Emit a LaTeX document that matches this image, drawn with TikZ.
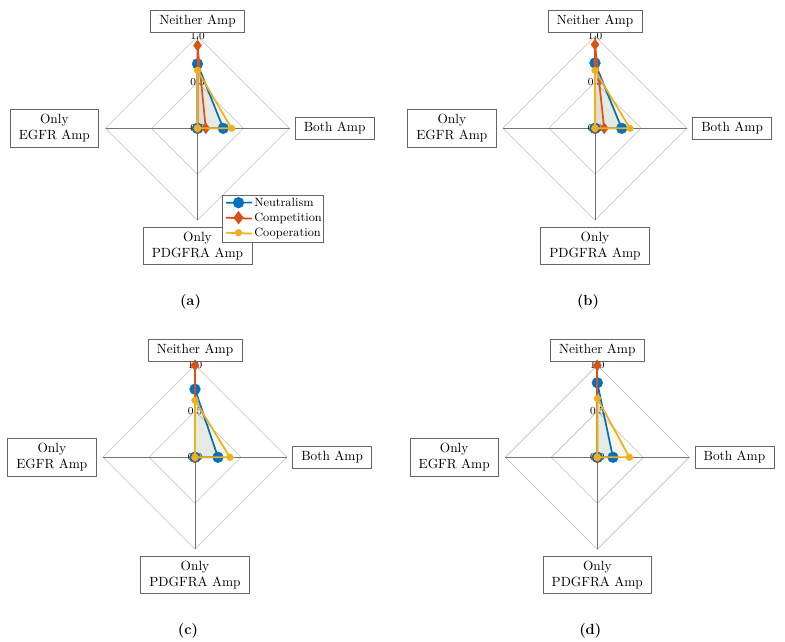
\documentclass[tikz,border=0pt]{standalone}
\usepackage{amsmath}
\usepackage{tikz}
\usetikzlibrary{positioning}
\usetikzlibrary{plotmarks}

\definecolor{neublue}{rgb}{0,0.447,0.741}
\definecolor{comporange}{rgb}{0.85,0.325,0.098}
\definecolor{coopyellow}{rgb}{0.929,0.694,0.125}

\begin{document}
\begin{tikzpicture}[x=0.75pt,y=-0.75pt,
		axlabel/.style={draw=black!60,rectangle,align=center,inner xsep=6.5pt,inner ysep=3.5pt},
		gridline/.style={draw=black!25,line width=0.45pt},
		axisline/.style={draw=black!55,line width=0.7pt},
		tick/.style={font=\footnotesize,inner sep=0pt},
		series/.style={line width=1.3pt,line join=round},
		neu/.style={neublue,mark=*,mark size=4pt,mark options={line width=0.4pt}},
		comp/.style={comporange,mark=diamond*,mark size=4pt,mark options={line width=0.4pt}},
		coop/.style={coopyellow,mark=*,mark size=2.5pt,mark options={line width=0.4pt}},
		legtext/.style={font=\small,anchor=base west,inner xsep=1.5pt,inner ysep=0pt}]
	\useasboundingbox (0,0) rectangle (785,642);

	\foreach \p/\cx/\cy/\nN/\nB/\kN/\kB/\oN/\oB in {
			a/197.5/128.3/0.70/0.28/0.90/0.09/0.63/0.37,
			b/595/128.3/0.71/0.29/0.91/0.10/0.63/0.38,
			c/195/457.3/0.74/0.25/1.00/0.00/0.62/0.38,
			d/597.3/457.3/0.81/0.17/1.00/0.00/0.64/0.35} {
		\begin{scope}[shift={(\cx,\cy)}]
			\coordinate (o\p) at (0,0);
			\coordinate (top\p) at (0,-92);
			\coordinate (right\p) at (92,0);
			\coordinate (bottom\p) at (0,92);
			\coordinate (left\p) at (-92,0);

			\draw [gridline] (top\p) -- (right\p) -- (bottom\p) -- (left\p) -- cycle;
			\draw [gridline] (0,-46) -- (46,0) -- (0,46) -- (-46,0) -- cycle;
			\draw [axisline] (left\p) -- (right\p) (top\p) -- (bottom\p);

			\node [tick] at (top\p) {1.0};
			\node [tick] at (0,-46) {0.5};
			\node [tick] at (o\p) {0.0};

			\fill [neublue,fill opacity=0.1] (0,-\nN*92) -- (\nB*92,0) -- (o\p) -- cycle;
			\fill [comporange,fill opacity=0.08] (0,-\kN*92) -- (\kB*92,0) -- (o\p) -- cycle;
			\fill [coopyellow,fill opacity=0.1] (0,-\oN*92) -- (\oB*92,0) -- (o\p) -- cycle;

			\draw [neu,series] plot coordinates {(0,-\nN*92) (\nB*92,0) (0,0) (0,0)} -- cycle;
			\draw [comp,series] plot coordinates {(0,-\kN*92) (\kB*92,0) (0,0) (0,0)} -- cycle;
			\draw [coop,series] plot coordinates {(0,-\oN*92) (\oB*92,0) (0,0) (0,0)} -- cycle;

			\node [axlabel,above=3pt of top\p] (neither\p) {Neither Amp};
			\node [axlabel,right=4pt of right\p] (both\p) {Both Amp};
			\node [axlabel,left=5pt of left\p] (egfr\p) {Only\\EGFR Amp};
			\node [axlabel,below=5pt of bottom\p] (pdgfra\p) {Only\\PDGFRA Amp};

			\node [font=\fontsize{11}{13}\selectfont\bfseries] (cap\p) at (-7,174) {(\p)};
		\end{scope}
	}

	% legend of panel (a)
	\node [draw=black!60,fill=white,minimum width=75.5pt,minimum height=35pt] (legend) at (273,219) {};
	\node [legtext] (neutext) at (252,206.7) {Neutralism};
	\node [legtext] (comptext) at (252,221.7) {Competition};
	\node [legtext] (cooptext) at (252,236.7) {Cooperation};
	\coordinate (neuline) at (226,202.7);
	\coordinate (compline) at (226,217.7);
	\coordinate (coopline) at (226,232.7);

	\draw [neublue,series] (neuline) -- (neutext.west);
	\draw [comporange,series] (compline) -- (comptext.west);
	\draw [coopyellow,series] (coopline) -- (cooptext.west);
	\path [neu] plot coordinates {(238.5,202.7)};
	\path [comp,mark size=4.7pt] plot coordinates {(238.5,217.7)};
	\path [coop] plot coordinates {(238.5,232.7)};
\end{tikzpicture}
\end{document}
